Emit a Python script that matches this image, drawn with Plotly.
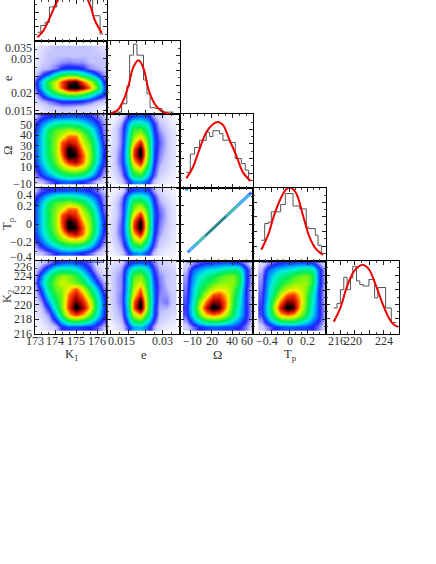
"""
Corner plot of the orbital parameters (K1, e, Omega, Tp, K2)
"""
import plotly.graph_objects as go

# Axis ranges of each parameter
K1_RANGE = [173, 176.5]
E_RANGE = [0.014, 0.035]
OMEGA_RANGE = [-10, 60]
TP_RANGE = [-0.4, 0.4]
K2_RANGE = [216, 226.1]

# Grid of the density maps
k1_grid = [173.0, 173.33, 173.66, 173.99, 174.32, 174.65, 174.98, 175.31, 175.64, 175.97, 176.3]
e_grid = [0.0142, 0.0161, 0.0179, 0.0198, 0.0216, 0.0235, 0.0254, 0.0272, 0.0291, 0.0309, 0.0328]
omega_col_grid = [-4.2, 2.1, 8.4, 14.7, 21.0, 27.1, 33.4, 39.7, 46.0, 52.1, 58.4]
tp_col_grid = [-0.31, -0.24, -0.17, -0.10, -0.03, 0.04, 0.11, 0.18, 0.25, 0.32, 0.39]
e_row_grid = [0.0328, 0.0309, 0.0291, 0.0272, 0.0254, 0.0235, 0.0216, 0.0198, 0.0179, 0.0161, 0.0142]
omega_row_grid = [58, 51.8, 45.6, 39.4, 33.2, 27, 20.8, 14.6, 8.4, 2.2, -4]
tp_row_grid = [0.37, 0.30, 0.235, 0.17, 0.10, 0.03, -0.04, -0.105, -0.175, -0.24, -0.31]
k2_row_grid = [225.8, 224.9, 224.0, 223.1, 222.2, 221.35, 220.45, 219.55, 218.65, 217.8, 216.9]

# Density levels, 0 (white) to 10 (black), top row first
e_k1 = [
    [0.3, 0.6, 0.8, 1, 1, 1, 1, 1, 1, 0.8, 0.6],
    [0.3, 0.7, 1, 1, 1, 1, 1, 1, 1, 1, 0.8],
    [0.4, 0.8, 1, 1.1, 1.2, 1.3, 1.2, 1.2, 1, 1, 1],
    [0.5, 1, 1.1, 1.4, 1.9, 2, 2, 1.8, 1.3, 1.1, 1],
    [0.8, 1.6, 2.3, 3.5, 4.4, 4.8, 4.6, 3.8, 3, 2, 1.2],
    [1.5, 3, 4.8, 6.2, 7.8, 9, 9.4, 7.6, 6.2, 4.2, 1.8],
    [1.4, 2.8, 4.6, 6.3, 7.6, 9.6, 10, 9, 7.4, 5.2, 2.2],
    [1, 2, 3.2, 4.3, 5, 5.6, 5.6, 5, 4, 2.8, 2],
    [0.7, 1.1, 1.4, 1.7, 2, 2, 2, 1.9, 1.6, 1.2, 0.9],
    [0.3, 0.6, 0.9, 1, 1.1, 1.1, 1, 0.9, 0.7, 0.5, 0.3],
    [0.1, 0.3, 0.5, 0.6, 0.6, 0.5, 0.5, 0.4, 0.3, 0.2, 0.1],
]
omega_k1 = [
    [1, 1.6, 1.8, 2, 2, 2.1, 2.1, 2, 1.8, 1.4, 1],
    [1.6, 2.3, 3, 3.6, 3.8, 3.8, 3.6, 3.2, 2.6, 2, 1.2],
    [1.8, 2.8, 4.2, 5, 5.2, 5.6, 5.2, 4.6, 3.6, 2.4, 1.3],
    [2, 3, 4.6, 5.4, 6.2, 7.4, 7.4, 5.6, 4.4, 2.8, 1.4],
    [2, 3, 4.5, 5.6, 7.6, 8.4, 8, 6.2, 5, 3.2, 1.6],
    [2, 3, 4.5, 5.6, 7.8, 9.8, 9, 7, 5.4, 3.4, 1.8],
    [2, 3, 4.4, 5.6, 7.4, 10, 9.4, 7.6, 5.6, 3.4, 1.8],
    [1.9, 2.8, 4, 5.2, 6.6, 8, 8.6, 7.4, 5.4, 3.2, 1.7],
    [1.6, 2.4, 3.4, 4.5, 5.4, 6.2, 6.4, 6, 4.4, 2.6, 1.4],
    [1.2, 1.9, 2.5, 3.2, 3.8, 4.2, 4.2, 3.8, 3, 2, 1.1],
    [0.8, 1, 1.4, 1.8, 2.1, 2.2, 2, 1.8, 1.5, 1, 0.6],
]
omega_e = [
    [0.1, 0.2, 0.6, 1.6, 2, 2.2, 2, 1.2, 0.7, 0.4, 0.2],
    [0.2, 0.5, 1.2, 2.4, 3.6, 3.6, 3, 1.8, 1, 0.6, 0.3],
    [0.2, 0.7, 1.4, 2.7, 4.8, 5, 3.8, 2, 1.2, 0.8, 0.4],
    [0.3, 0.7, 1.4, 3, 5.4, 6.4, 4.6, 2.2, 1.4, 1, 0.5],
    [0.3, 0.7, 1.4, 3.2, 6.4, 8.2, 5, 2.3, 1.5, 1, 0.5],
    [0.4, 0.8, 1.5, 3.4, 7.6, 9.8, 5.4, 2.2, 1.4, 1, 0.5],
    [0.4, 0.9, 1.6, 3.4, 7.8, 10, 5.4, 2.2, 1.3, 0.9, 0.5],
    [0.4, 0.9, 1.6, 3.2, 6.8, 8.4, 5, 2, 1.2, 0.8, 0.4],
    [0.3, 0.8, 1.4, 2.8, 5.6, 6.6, 4, 1.8, 1, 0.7, 0.4],
    [0.2, 0.6, 1.2, 2.3, 4.2, 4.6, 3, 1.6, 0.8, 0.5, 0.3],
    [0.1, 0.3, 0.8, 1.6, 2.4, 2.6, 2, 1, 0.5, 0.3, 0.2],
]
k2_k1 = [
    [0.5, 0.9, 1.3, 1.8, 2, 2.2, 2, 1.8, 1.4, 0.7, 0.4],
    [0.8, 1.6, 2.6, 3.6, 3.8, 3.8, 3.4, 2.6, 1.8, 1, 0.5],
    [1, 2.4, 3.8, 5, 5.6, 5.4, 4.8, 3.6, 2.4, 1.4, 0.8],
    [1.2, 2.8, 4.4, 5.4, 6.2, 5.8, 5.2, 4.6, 3.2, 2, 1.1],
    [1, 2.2, 4, 5.2, 5.6, 6.6, 7.6, 6.2, 4.4, 2.8, 1.4],
    [0.8, 1.8, 3.4, 4.8, 5.4, 7.4, 8.4, 7.2, 5.2, 3.4, 1.8],
    [0.6, 1.3, 2.6, 4.2, 5.4, 7.8, 9.2, 8.2, 6.4, 3.8, 2],
    [0.5, 1, 1.9, 3.6, 5.4, 8, 10, 8.8, 6.8, 3.8, 2],
    [0.3, 0.8, 1.3, 2.6, 4.6, 6.8, 7.8, 7, 5.2, 3.4, 1.9],
    [0.2, 0.5, 1, 1.8, 3, 4.4, 4.8, 4.4, 3.6, 2.4, 1.6],
    [0.1, 0.3, 0.6, 1, 1.8, 2, 2, 1.9, 1.8, 1.6, 1],
]
k2_e = [
    [0.4, 0.6, 0.9, 1.6, 2, 2.1, 2, 1.4, 0.9, 0.7, 0.5],
    [0.5, 0.9, 1.2, 2.5, 3.8, 4.2, 3.2, 1.8, 1.1, 0.9, 0.7],
    [0.5, 1, 1.3, 2.8, 5, 5.4, 4, 2, 1.3, 1, 0.8],
    [0.5, 1, 1.3, 2.9, 5.4, 6.2, 4.4, 2.2, 1.4, 1, 0.8],
    [0.5, 1, 1.3, 3, 5.8, 7.4, 4.6, 2.3, 1.4, 1.1, 0.8],
    [0.5, 1, 1.4, 3.1, 6.4, 8.2, 5, 2.4, 1.3, 1.2, 0.9],
    [0.5, 1, 1.4, 3.2, 7.4, 9.8, 5.2, 2.4, 1.2, 1.4, 0.9],
    [0.5, 0.9, 1.3, 3, 7.6, 10, 5.2, 2.2, 1.1, 1.1, 0.8],
    [0.4, 0.8, 1.2, 2.8, 5.8, 7, 4.4, 2.2, 1, 0.8, 0.6],
    [0.2, 0.6, 1, 2.2, 4.4, 4.8, 3.2, 1.8, 0.8, 0.6, 0.4],
    [0.1, 0.3, 0.7, 1.6, 2.6, 2.8, 2.2, 1.2, 0.5, 0.3, 0.2],
]
k2_omega = [
    [0.6, 1.2, 1.6, 1.8, 2, 2, 2.1, 2, 1.8, 1.2, 0.6],
    [1, 2.2, 2.6, 3, 3.2, 3.4, 3.8, 4, 3.8, 2.2, 1],
    [1.2, 2.5, 3.2, 3.8, 4.2, 4.8, 5.2, 5.4, 4.6, 2.2, 1],
    [1.3, 2.7, 3.6, 4.4, 5, 5.4, 5.6, 5.6, 4.6, 2.2, 1],
    [1.4, 2.9, 4, 5, 6, 6.4, 6.2, 5.4, 4, 2, 0.9],
    [1.5, 3, 4.4, 6, 7.6, 7.8, 6.8, 5.2, 3.6, 2, 0.9],
    [1.6, 3.2, 5.4, 7.4, 9, 8.8, 7.2, 5, 3.4, 2, 0.9],
    [1.7, 3.4, 6, 8.4, 10, 9.4, 7, 4.8, 3.2, 2, 1],
    [1.6, 3.2, 5, 6.8, 7.4, 7, 5.8, 4.4, 3, 2, 1],
    [1.2, 2.4, 3.4, 4.4, 4.6, 4.6, 4, 3.2, 2.4, 1.8, 1],
    [0.8, 1.4, 1.8, 2, 2.1, 2.1, 2, 2, 1.8, 1.4, 0.7],
]

# Histograms (bin edges, relative height) and fitted curves
k1_edges = [173.13, 173.29, 173.5, 173.71, 174.06, 174.38, 174.7, 175.0, 175.3, 175.63, 175.79, 176.15, 176.3]
k1_hist = [0.124, 0.216, 0.26, 0.47, 0.62, 0.85, 0.95, 0.92, 0.78, 0.6, 0.35, 0.1, 0.1]
k1_fit_x = [173.13, 173.42, 173.74, 173.98, 174.14, 174.54, 174.83, 175.12, 175.54, 175.70, 175.9, 176.23]
k1_fit_y = [0.055, 0.147, 0.33, 0.49, 0.58, 0.87, 1.0, 0.87, 0.58, 0.47, 0.285, 0.115]

e_edges = [0.0162, 0.0181, 0.0196, 0.0204, 0.0215, 0.0225, 0.0244, 0.0254, 0.0263, 0.0278, 0.0297, 0.0331]
e_hist = [0.03, 0.145, 0.385, 0.81, 0.96, 0.81, 0.47, 0.28, 0.09, 0.08, 0.03, 0.03]
e_fit_x = [0.0148, 0.0169, 0.0186, 0.0201, 0.0215, 0.0230, 0.0244, 0.0258, 0.0273, 0.0287, 0.0302, 0.0321]
e_fit_y = [0.01, 0.055, 0.19, 0.40, 0.65, 0.74, 0.63, 0.35, 0.17, 0.08, 0.03, 0.0]

omega_edges = [-4.2, -0.4, 3.7, 8.5, 14.9, 18.1, 21.3, 27.7, 30.9, 37.3, 42.7, 48.5, 52.3, 55.5, 58.7]
omega_hist = [0.21, 0.46, 0.55, 0.65, 0.76, 0.70, 0.78, 0.74, 0.65, 0.62, 0.40, 0.33, 0.24, 0.10, 0.10]
omega_fit_x = [-4.2, 2.1, 8.5, 14.9, 21.3, 26.1, 30.9, 37.3, 43.7, 50.1, 57.5]
omega_fit_y = [0.13, 0.28, 0.53, 0.76, 0.87, 0.90, 0.86, 0.65, 0.44, 0.21, 0.09]

tp_edges = [-0.312, -0.275, -0.231, -0.202, -0.128, -0.099, -0.048, 0.037, 0.110, 0.183, 0.209, 0.283, 0.312, 0.349, 0.378]
tp_hist = [0.28, 0.51, 0.53, 0.67, 0.67, 0.77, 0.92, 0.75, 0.71, 0.46, 0.44, 0.35, 0.21, 0.10, 0.10]
tp_fit_x = [-0.312, -0.238, -0.165, -0.092, -0.037, 0.011, 0.073, 0.147, 0.22, 0.294, 0.367]
tp_fit_y = [0.15, 0.35, 0.645, 0.87, 0.98, 1.0, 0.92, 0.62, 0.32, 0.155, 0.08]

k2_edges = [217.07, 217.53, 218.0, 218.47, 218.93, 219.4, 219.72, 220.24, 220.7, 221.17, 221.96, 222.75, 223.2, 224.28, 225.07, 225.77]
k2_hist = [0.35, 0.41, 0.60, 0.77, 0.60, 0.76, 0.92, 0.72, 0.67, 0.65, 0.74, 0.49, 0.63, 0.35, 0.15, 0.15]
k2_fit_x = [217.07, 218.0, 218.93, 219.86, 220.56, 221.17, 221.96, 222.89, 223.82, 224.75, 225.45, 226.05]
k2_fit_y = [0.16, 0.35, 0.65, 0.85, 0.92, 0.94, 0.88, 0.67, 0.42, 0.21, 0.12, 0.09]

# Omega and Tp are degenerate: their joint density is a thin line, one piece per level
line_levels = [
    ([-3.3, 58.8], [-0.312, 0.353], "#b4d2ff", 3.5),
    ([-2.5, 58.0], [-0.303, 0.345], "#2860ff", 2.5),
    ([-1.5, 56.0], [-0.293, 0.323], "#40e0f0", 1.5),
    ([5.0, 45.0], [-0.223, 0.205], "#40e070", 1.2),
    ([14.0, 34.0], [-0.127, 0.087], "#222200", 0.9),
]
# Stray samples at the top edge of the lower panels
speck_omega = [-5.5, -2.5]
speck_tp = [0.378, 0.378]
k2_strip_k1 = [174.4, 176.3]
k2_strip_e = [0.0196, 0.0247]
k2_strip_omega = [-4.2, 58.4]
k2_strip_tp = [-0.31, 0.39]
k2_strip_y = [225.9, 225.9]
tp_strip_k1 = [173.4, 176.2]
tp_strip_e = [0.0196, 0.0247]
tp_strip_y = [0.385, 0.385]

# Tick values and labels: (value, label, pixel shift away from collisions)
k1_xlabels = [(173, "173", 0), (174, "174", 0), (175, "175", 0), (176, "176", 0)]
e_xlabels = [(0.015, "0.015", 11), (0.03, "0.03", 0)]
omega_xlabels = [(-10, "−10", 12), (20, "20", 0), (40, "40", 0), (60, "60", -6)]
tp_xlabels = [(-0.4, "−0.4", 14), (0, "0", 0), (0.2, "0.2", 0)]
k2_xlabels = [(216, "216", 11), (220, "220", -2), (224, "224", 0)]
e_ylabels = [(0.035, "0.035", -7), (0.03, "0.03", 0), (0.02, "0.02", 0), (0.015, "0.015", 0)]
omega_ylabels = [(50, "50", 0), (40, "40", 0), (30, "30", 0), (20, "20", 0), (10, "10", 0), (-10, "−10", 4)]
tp_ylabels = [(0.4, "0.4", -7), (0.2, "0.2", 0), (0, "0", 0), (-0.2, "−0.2", 0), (-0.4, "−0.4", 4)]
k2_ylabels = [(226, "226", -6), (224, "224", 0), (222, "222", 0), (220, "220", 0), (218, "218", 0), (216, "216", 0)]

WIDTH = 436
HEIGHT = 564
COL_EDGES = [34.7, 107.4, 180.3, 253.3, 326.0, 398.7]
ROW_EDGES = [0.0, 41.3, 114.3, 187.7, 260.7, 333.5]
FONT = "Liberation Serif"
TEXT_COLOR = "#333333"

COLORSCALE = [
    [0.0, "#ffffff"],
    [0.1, "#c4c4ff"],
    [0.18, "#1e1eff"],
    [0.25, "#0096ff"],
    [0.32, "#00f0dc"],
    [0.44, "#00ee50"],
    [0.57, "#a0f800"],
    [0.66, "#ffee00"],
    [0.77, "#ff3c00"],
    [0.87, "#aa0000"],
    [0.96, "#000000"],
    [1.0, "#000000"],
]

x_specs = [
    dict(range=K1_RANGE, dtick=1, minor=1 / 3, labels=k1_xlabels),
    dict(range=E_RANGE, dtick=0.005, minor=0.0025, labels=e_xlabels),
    dict(range=OMEGA_RANGE, dtick=20, minor=20 / 3, labels=omega_xlabels),
    dict(range=TP_RANGE, dtick=0.2, minor=0.2 / 3, labels=tp_xlabels),
    dict(range=K2_RANGE, dtick=2, minor=1, labels=k2_xlabels),
]
y_specs = [
    None,
    dict(range=E_RANGE, dtick=0.005, minor=0.0025, labels=e_ylabels),
    dict(range=OMEGA_RANGE, dtick=10, minor=5, labels=omega_ylabels),
    dict(range=TP_RANGE, dtick=0.2, minor=0.1, labels=tp_ylabels),
    dict(range=K2_RANGE, dtick=2, minor=1, labels=k2_ylabels),
]


def add_axes(layout, name_x, name_y, col, row, x_spec, y_spec):
    """Set up one panel with a full frame and inward ticks"""
    common = dict(showgrid=False, zeroline=False, showticklabels=False, showline=True,
                  linecolor="black", linewidth=1, mirror="ticks", ticks="inside",
                  ticklen=4, tickcolor="#222222", tickwidth=1)
    top = ROW_EDGES[row]
    bottom = ROW_EDGES[row + 1]
    layout[name_x] = dict(
        common, domain=[COL_EDGES[col] / WIDTH, COL_EDGES[col + 1] / WIDTH],
        anchor=name_y.replace("axis", ""), range=x_spec["range"], dtick=x_spec["dtick"], tick0=0,
        minor=dict(ticks="inside", ticklen=2, dtick=x_spec["minor"], tick0=0, tickcolor="#444444"))
    y_axis = dict(
        common, domain=[1 - bottom / HEIGHT, 1 - top / HEIGHT],
        anchor=name_x.replace("axis", ""))
    if y_spec is None:
        # Diagonal panels have a relative height axis. The first one is cut by the page edge.
        y_axis.update(range=[0, (bottom - top) / 73.0], dtick=0.2, tick0=0,
                      minor=dict(ticks="inside", ticklen=2, dtick=0.1, tick0=0, tickcolor="#444444"))
    else:
        y_axis.update(range=y_spec["range"], dtick=y_spec["dtick"], tick0=0,
                      minor=dict(ticks="inside", ticklen=2, dtick=y_spec["minor"], tick0=0, tickcolor="#444444"))
    layout[name_y] = y_axis


fig = go.Figure()
layout = {}
annotations = []
panel = 0

# (row, col, values, x grid, y grid)
density_panels = [
    (1, 0, e_k1, k1_grid, e_row_grid),
    (2, 0, omega_k1, k1_grid, omega_row_grid),
    (2, 1, omega_e, e_grid, omega_row_grid),
    (3, 0, omega_k1, k1_grid, tp_row_grid),
    (3, 1, omega_e, e_grid, tp_row_grid),
    (4, 0, k2_k1, k1_grid, k2_row_grid),
    (4, 1, k2_e, e_grid, k2_row_grid),
    (4, 2, k2_omega, omega_col_grid, k2_row_grid),
    (4, 3, k2_omega, tp_col_grid, k2_row_grid),
]
diagonal_panels = [
    (k1_edges, k1_hist, k1_fit_x, k1_fit_y),
    (e_edges, e_hist, e_fit_x, e_fit_y),
    (omega_edges, omega_hist, omega_fit_x, omega_fit_y),
    (tp_edges, tp_hist, tp_fit_x, tp_fit_y),
    (k2_edges, k2_hist, k2_fit_x, k2_fit_y),
]

for row, col, values, xs, ys in density_panels:
    panel += 1
    suffix = "" if panel == 1 else str(panel)
    add_axes(layout, "xaxis" + suffix, "yaxis" + suffix, col, row, x_specs[col], y_specs[row])
    fig.add_trace(go.Heatmap(z=values, x=xs, y=ys, xaxis="x" + suffix, yaxis="y" + suffix,
                             zmin=0, zmax=10, colorscale=COLORSCALE, zsmooth="best",
                             showscale=False, hoverinfo="skip"))

# Degenerate Omega / Tp panel
panel += 1
suffix = str(panel)
add_axes(layout, "xaxis" + suffix, "yaxis" + suffix, 2, 3, x_specs[2], y_specs[3])
for xs, ys, color, width in line_levels:
    fig.add_trace(go.Scatter(x=xs, y=ys, mode="lines", xaxis="x" + suffix, yaxis="y" + suffix,
                             line=dict(color=color, width=width), hoverinfo="skip"))
fig.add_trace(go.Scatter(x=speck_omega, y=speck_tp, mode="lines", xaxis="x" + suffix, yaxis="y" + suffix,
                         line=dict(color="#1e90ff", width=1.5), hoverinfo="skip"))

# Thin strips along the top edge of the Tp and K2 rows
strips = [
    ("x4", "y4", tp_strip_k1, tp_strip_y), ("x5", "y5", tp_strip_e, tp_strip_y),
    ("x6", "y6", k2_strip_k1, k2_strip_y), ("x7", "y7", k2_strip_e, k2_strip_y),
    ("x8", "y8", k2_strip_omega, k2_strip_y), ("x9", "y9", k2_strip_tp, k2_strip_y),
]
for xref, yref, xs, ys in strips:
    fig.add_trace(go.Scatter(x=xs, y=ys, mode="lines", xaxis=xref, yaxis=yref,
                             line=dict(color="#1e3cff", width=1), hoverinfo="skip"))

for i, (edges, hist, fit_x, fit_y) in enumerate(diagonal_panels):
    panel += 1
    suffix = str(panel)
    add_axes(layout, "xaxis" + suffix, "yaxis" + suffix, i, i, x_specs[i], None)
    fig.add_trace(go.Scatter(x=edges, y=hist, mode="lines", xaxis="x" + suffix, yaxis="y" + suffix,
                             line=dict(color="#555555", width=1, shape="hv"), hoverinfo="skip"))
    fig.add_trace(go.Scatter(x=fit_x, y=fit_y, mode="lines", xaxis="x" + suffix, yaxis="y" + suffix,
                             line=dict(color="#ee0000", width=2, shape="spline"), hoverinfo="skip"))

# Tick labels are placed by hand since the edge ones are pushed inwards
bottom_axes = {0: "x6", 1: "x7", 2: "x8", 3: "x9"}
for col, spec in enumerate(x_specs):
    ref = bottom_axes.get(col, "x15")
    for value, text, shift in spec["labels"]:
        annotations.append(dict(x=value, y=1 - 341 / HEIGHT, xref=ref, yref="paper", text=text, showarrow=False,
                                xanchor="center", yanchor="middle", xshift=shift,
                                font=dict(family=FONT, size=12, color=TEXT_COLOR)))
left_axes = {1: "y", 2: "y2", 3: "y4", 4: "y6"}
for row in range(1, 5):
    for value, text, shift in y_specs[row]["labels"]:
        annotations.append(dict(x=33.5 / WIDTH, y=value, xref="paper", yref=left_axes[row], text=text, showarrow=False,
                                xanchor="right", yanchor="middle", yshift=shift,
                                font=dict(family=FONT, size=12, color=TEXT_COLOR)))

# Axis titles
x_titles = [("K<sub>1</sub>", 71), ("e", 143.5), ("Ω", 217), ("T<sub>p</sub>", 290)]
y_titles = [("e", 78), ("Ω", 151), ("T<sub>p</sub>", 224), ("K<sub>2</sub>", 297)]
for text, px in x_titles:
    annotations.append(dict(x=px / WIDTH, y=1 - 355 / HEIGHT, xref="paper", yref="paper", text=text, showarrow=False,
                            xanchor="center", yanchor="middle",
                            font=dict(family=FONT, size=12.5, color=TEXT_COLOR)))
for text, py in y_titles:
    annotations.append(dict(x=8 / WIDTH, y=1 - py / HEIGHT, xref="paper", yref="paper", text=text, showarrow=False,
                            xanchor="center", yanchor="middle", textangle=-90,
                            font=dict(family=FONT, size=12.5, color=TEXT_COLOR)))

fig.update_layout(
    width=WIDTH, height=HEIGHT, margin=dict(l=0, r=0, t=0, b=0),
    paper_bgcolor="white", plot_bgcolor="white", showlegend=False,
    annotations=annotations, **layout
)

fig.write_html("out.html", post_script="document.body.style.margin='0'", config=dict(displayModeBar=False))
